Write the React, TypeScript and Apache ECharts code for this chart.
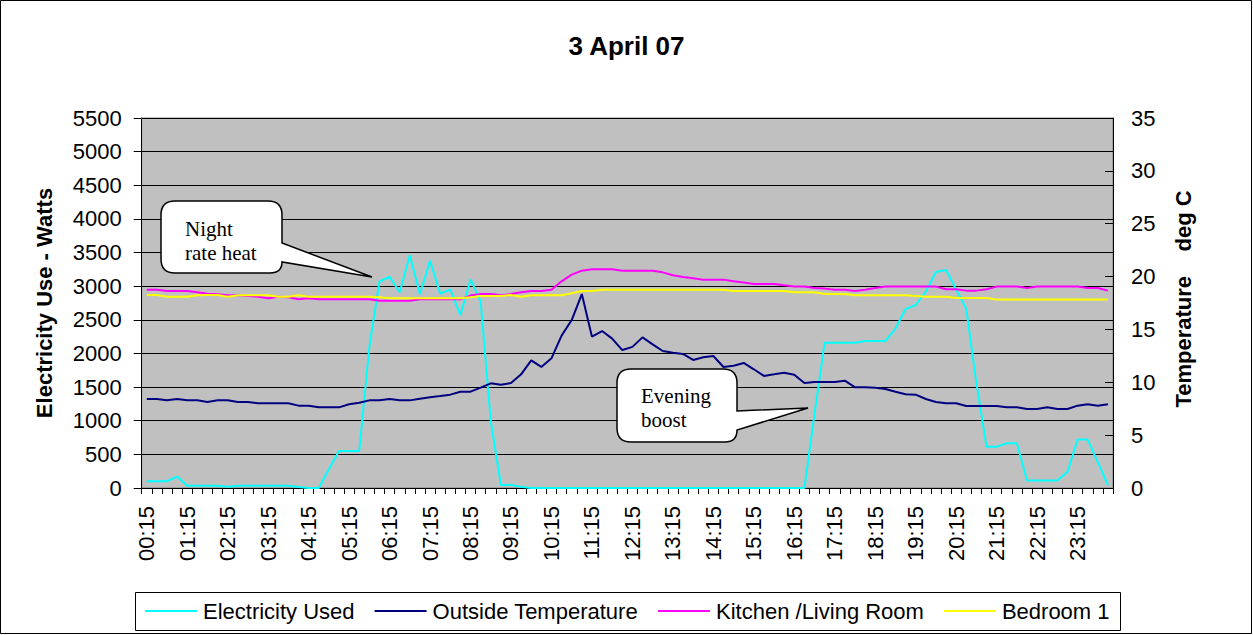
import React, { useEffect, useRef } from "react";
import * as echarts from "echarts";

const categories = [
  "00:15","00:30","00:45","01:00","01:15","01:30","01:45","02:00","02:15","02:30","02:45","03:00",
  "03:15","03:30","03:45","04:00","04:15","04:30","04:45","05:00","05:15","05:30","05:45","06:00",
  "06:15","06:30","06:45","07:00","07:15","07:30","07:45","08:00","08:15","08:30","08:45","09:00",
  "09:15","09:30","09:45","10:00","10:15","10:30","10:45","11:00","11:15","11:30","11:45","12:00",
  "12:15","12:30","12:45","13:00","13:15","13:30","13:45","14:00","14:15","14:30","14:45","15:00",
  "15:15","15:30","15:45","16:00","16:15","16:30","16:45","17:00","17:15","17:30","17:45","18:00",
  "18:15","18:30","18:45","19:00","19:15","19:30","19:45","20:00","20:15","20:30","20:45","21:00",
  "21:15","21:30","21:45","22:00","22:15","22:30","22:45","23:00","23:15","23:30","23:45","00:00"
];

const electricity = [
  100, 100, 100, 170, 35, 35, 35, 35, 20, 35, 35, 35,
  35, 35, 35, 15, 0, 0, 280, 550, 550, 550, 2100, 3070,
  3140, 2910, 3460, 2880, 3380, 2890, 2950, 2570, 3100, 2770, 1000, 45,
  45, 20, 0, 0, 0, 0, 0, 0, 0, 0, 0, 0,
  0, 0, 0, 0, 0, 0, 0, 0, 0, 0, 0, 0,
  0, 0, 0, 0, 0, 0, 1100, 2160, 2160, 2160, 2160, 2185,
  2185, 2185, 2370, 2660, 2720, 2920, 3210, 3240, 2950, 2660, 1560, 615,
  615, 665, 665, 110, 110, 110, 110, 240, 720, 720, 380, 45
];

const outsideTemp = [
  8.42, 8.42, 8.29, 8.42, 8.29, 8.29, 8.14, 8.29, 8.29, 8.14, 8.14, 8.01,
  8.01, 8.01, 8.01, 7.79, 7.79, 7.63, 7.63, 7.63, 7.92, 8.07, 8.29, 8.29,
  8.42, 8.29, 8.29, 8.45, 8.58, 8.7, 8.83, 9.11, 9.11, 9.49, 9.9, 9.77,
  9.93, 10.75, 12.08, 11.45, 12.27, 14.41, 15.89, 18.35, 14.32, 14.85, 14.13, 13.05,
  13.35, 14.25, 13.59, 12.96, 12.8, 12.68, 12.11, 12.36, 12.49, 11.45, 11.57, 11.83,
  11.23, 10.6, 10.75, 10.91, 10.72, 9.93, 10.03, 10.03, 10.03, 10.15, 9.52, 9.52,
  9.49, 9.37, 9.11, 8.86, 8.83, 8.42, 8.14, 8.01, 8.01, 7.76, 7.76, 7.76,
  7.76, 7.63, 7.63, 7.47, 7.47, 7.63, 7.47, 7.47, 7.79, 7.92, 7.79, 7.92
];

const kitchen = [
  18.76, 18.76, 18.64, 18.64, 18.64, 18.51, 18.38, 18.32, 18.23, 18.23, 18.17, 18.1,
  17.94, 18.1, 18.04, 17.85, 17.94, 17.85, 17.85, 17.85, 17.85, 17.85, 17.85, 17.72,
  17.72, 17.72, 17.72, 17.85, 17.85, 17.85, 17.85, 17.85, 18.2, 18.35, 18.35, 18.23,
  18.35, 18.51, 18.64, 18.64, 18.76, 19.55, 20.18, 20.56, 20.69, 20.69, 20.69, 20.56,
  20.56, 20.56, 20.56, 20.4, 20.12, 19.96, 19.84, 19.71, 19.71, 19.71, 19.55, 19.43,
  19.3, 19.3, 19.3, 19.17, 19.05, 19.05, 18.92, 18.86, 18.76, 18.76, 18.64, 18.76,
  18.92, 19.05, 19.05, 19.05, 19.05, 19.05, 19.05, 18.8, 18.8, 18.67, 18.67, 18.8,
  19.05, 19.05, 19.05, 18.92, 19.05, 19.05, 19.05, 19.05, 19.05, 18.92, 18.92, 18.67
];

const bedroom = [
  18.26, 18.26, 18.1, 18.1, 18.1, 18.23, 18.26, 18.26, 18.1, 18.23, 18.23, 18.23,
  18.23, 18.1, 18.1, 18.23, 18.1, 18.1, 18.1, 18.1, 18.1, 18.1, 18.1, 18.04,
  17.94, 17.94, 17.94, 17.94, 17.94, 17.94, 17.94, 17.94, 18.04, 18.17, 18.17, 18.17,
  18.26, 18.1, 18.23, 18.23, 18.23, 18.23, 18.42, 18.64, 18.64, 18.76, 18.76, 18.76,
  18.76, 18.76, 18.76, 18.76, 18.76, 18.76, 18.76, 18.76, 18.76, 18.76, 18.64, 18.64,
  18.64, 18.64, 18.64, 18.64, 18.51, 18.51, 18.51, 18.35, 18.35, 18.35, 18.23, 18.23,
  18.23, 18.23, 18.23, 18.23, 18.17, 18.1, 18.1, 18.1, 17.98, 17.98, 17.98, 17.98,
  17.82, 17.82, 17.82, 17.82, 17.82, 17.82, 17.82, 17.82, 17.82, 17.82, 17.82, 17.82
];

const seriesNames = ["Electricity Used", "Outside Temperature", "Kitchen /Living Room", "Bedroom 1"];
const seriesColors = ["#00FFFF", "#000080", "#FF00FF", "#FFFF00"];

const FONT = "'Liberation Sans', Arial, sans-serif";
const SERIF = "'Liberation Serif', 'Times New Roman', serif";

const nightPath =
  "M 175 201 L 268 201 Q 282 201 282 215 L 282 243 L 372 277 L 282 262 Q 282 273 270 273 L 175 273 Q 161 273 161 259 L 161 215 Q 161 201 175 201 Z";
const eveningPath =
  "M 631 369 L 723 369 Q 737 369 737 383 L 737 411 L 808 408 L 737 430 Q 737 442 725 442 L 631 442 Q 617 442 617 428 L 617 383 Q 617 369 631 369 Z";

export default function App() {
  const ref = useRef<HTMLDivElement>(null);

  useEffect(() => {
    const el = ref.current;
    if (!el) return;
    echarts.graphic.registerShape("calloutNight", echarts.graphic.extendPath(nightPath, {}));
    echarts.graphic.registerShape("calloutEvening", echarts.graphic.extendPath(eveningPath, {}));
    const chart = echarts.init(el, null, { renderer: "svg" });

    const data = [electricity, outsideTemp, kitchen, bedroom];

    chart.setOption({
      animation: false,
      backgroundColor: "#ffffff",
      textStyle: { fontFamily: FONT, color: "#000" },
      title: {
        text: "3 April 07",
        left: "center",
        top: 28,
        textStyle: { fontFamily: FONT, fontSize: 26, fontWeight: "bold", color: "#000" },
      },
      legend: {
        data: seriesNames,
        left: 145,
        top: 600,
        padding: 0,
        itemGap: 20,
        itemWidth: 52,
        itemHeight: 2,
        icon: "rect",
        textStyle: { fontFamily: FONT, fontSize: 22, color: "#000", padding: [0, 0, 0, 1] },
      },
      grid: {
        left: 141.7,
        right: 140,
        top: 118,
        bottom: 147,
        show: true,
        backgroundColor: "#C0C0C0",
        borderColor: "#808080",
        borderWidth: 1,
      },
      xAxis: {
        type: "category",
        data: categories,
        boundaryGap: true,
        axisLine: { show: true, lineStyle: { color: "#000", width: 1 } },
        axisTick: { show: true, interval: 0, length: 6, lineStyle: { color: "#000" } },
        axisLabel: {
          interval: 3,
          rotate: 90,
          margin: 18,
          fontSize: 22,
          fontFamily: FONT,
          color: "#000",
        },
        splitLine: { show: false },
      },
      yAxis: [
        {
          type: "value",
          min: 0,
          max: 5500,
          interval: 500,
          position: "left",
          axisLine: { show: true, lineStyle: { color: "#000", width: 1 } },
          axisTick: { show: true, length: 8, lineStyle: { color: "#000" } },
          axisLabel: {
            margin: 20,
            fontSize: 22,
            fontFamily: FONT,
            color: "#000",
            formatter: (v: number) => String(v),
          },
          splitLine: { show: true, lineStyle: { color: "#000", width: 1 } },
        },
        {
          type: "value",
          min: 0,
          max: 35,
          interval: 5,
          position: "right",
          axisLine: { show: true, lineStyle: { color: "#000", width: 1 } },
          axisTick: { show: true, inside: true, length: 8, lineStyle: { color: "#000" } },
          axisLabel: {
            margin: 18,
            fontSize: 22,
            fontFamily: FONT,
            color: "#000",
            formatter: (v: number) => String(v),
          },
          splitLine: { show: false },
        },
      ],
      series: seriesNames.map((name, idx) => ({
        name,
        type: "line",
        yAxisIndex: idx === 0 ? 0 : 1,
        data: data[idx],
        symbol: "none",
        showSymbol: false,
        smooth: false,
        lineStyle: { color: seriesColors[idx], width: 2 },
        itemStyle: { color: seriesColors[idx] },
        z: idx === 0 ? 2 : 3,
      })),
      graphic: [
        {
          type: "rect",
          z: 1,
          silent: true,
          shape: { x: 0.5, y: 0.5, width: 1251, height: 633 },
          style: { fill: "none", stroke: "#000", lineWidth: 1 },
        },
        {
          type: "rect",
          z: 1,
          silent: true,
          shape: { x: 135.5, y: 592.5, width: 985, height: 38 },
          style: { fill: "none", stroke: "#000", lineWidth: 1 },
        },
        {
          type: "text",
          z: 10,
          x: 44,
          y: 303,
          rotation: Math.PI / 2,
          style: {
            text: "Electricity Use - Watts",
            font: `bold 22px ${FONT}`,
            fill: "#000",
            textAlign: "center",
            textVerticalAlign: "middle",
          },
        },
        {
          type: "text",
          z: 10,
          x: 1183,
          y: 299,
          rotation: Math.PI / 2,
          style: {
            text: "Temperature    deg C",
            font: `bold 22px ${FONT}`,
            fill: "#000",
            textAlign: "center",
            textVerticalAlign: "middle",
          },
        },
        {
          type: "calloutNight",
          z: 100,
          x: 0,
          y: 0,
          style: { fill: "#fff", stroke: "#000", lineWidth: 1.5 },
        },
        {
          type: "text",
          z: 101,
          x: 185,
          y: 217,
          style: { text: "Night\nrate heat", font: `21px ${SERIF}`, fill: "#000", lineHeight: 24 },
        },
        {
          type: "calloutEvening",
          z: 100,
          x: 0,
          y: 0,
          style: { fill: "#fff", stroke: "#000", lineWidth: 1.5 },
        },
        {
          type: "text",
          z: 101,
          x: 641,
          y: 384,
          style: { text: "Evening\nboost", font: `21px ${SERIF}`, fill: "#000", lineHeight: 24 },
        },
      ],
    });

    return () => {
      chart.dispose();
    };
  }, []);

  return (
    <div
      ref={ref}
      style={{ position: "absolute", left: 0, top: 0, width: 1253, height: 635, background: "#fff" }}
    />
  );
}
